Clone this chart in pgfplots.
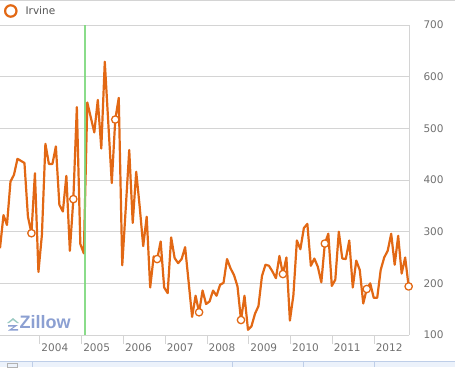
\documentclass[border=0pt]{standalone}
\usepackage{fontspec}
\setmainfont{DejaVu Sans}
\newfontfamily\zfont{Liberation Sans}
\usepackage{pgfplots}
\usepackage{pgfplotstable}
\pgfplotsset{compat=1.18}
\definecolor{orangeline}{RGB}{226,104,20}
\definecolor{greenline}{RGB}{125,216,125}
\definecolor{gridgray}{RGB}{212,212,212}
\definecolor{labelgray}{RGB}{112,112,112}
\definecolor{legendgray}{RGB}{85,85,85}
\definecolor{zblue}{RGB}{140,160,210}
\definecolor{bandfill}{RGB}{236,242,251}
\definecolor{bandline}{RGB}{190,206,232}

\pgfplotstableread{
i v
0 268
1 332
2 313
3 397
4 410
5 441
6 437
7 433
8 329
9 297
10 413
11 222
12 294
13 470
14 431
15 431
16 465
17 352
18 339
19 408
20 263
21 363
22 541
23 276
24 258
25 550
26 521
27 492
28 555
29 461
30 629
31 511
32 394
33 517
34 559
35 235
36 345
37 458
38 317
39 416
40 348
41 272
42 329
43 192
44 252
45 247
46 281
47 192
48 181
49 289
50 249
51 239
52 247
53 270
54 203
55 135
56 176
57 144
58 186
59 160
60 165
61 186
62 176
63 197
64 201
65 247
66 229
67 216
68 194
69 129
70 176
71 110
72 117
73 141
74 156
75 214
76 236
77 234
78 223
79 210
80 253
81 218
82 250
83 128
84 177
85 283
86 266
87 307
88 315
89 234
90 248
91 232
92 202
93 277
94 296
95 195
96 207
97 300
98 248
99 247
100 283
101 192
102 244
103 226
104 161
105 189
106 200
107 172
108 172
109 226
110 250
111 263
112 296
113 236
114 292
115 219
116 250
117 194
}\irvine

\begin{document}
\begin{tikzpicture}
\path[use as bounding box] (0pt,-32pt) rectangle (455pt,335pt);
% top border and bottom band
\draw[gridgray, line width=0.8pt] (0pt,334.6pt) -- (455pt,334.6pt);
\fill[bandfill] (0pt,-32pt) rectangle (455pt,-26pt);
\draw[bandline, line width=0.8pt] (0pt,-26pt) -- (455pt,-26pt);
\foreach \xx in {32,232,303,374} {\draw[bandline, line width=0.8pt] (\xx pt,-26pt) -- (\xx pt,-32pt);}
\draw[gray!60, line width=0.6pt] (7pt,-28pt) rectangle (17pt,-32.5pt);
\begin{axis}[
  at={(0pt,0pt)}, anchor=south west,
  width=409pt, height=310pt, scale only axis,
  xmin=0, xmax=117.1, ymin=100, ymax=700,
  axis x line=bottom, axis y line=right,
  axis line style={draw=gridgray, line width=1pt, -},
  xtick={11.45,23.41,35.37,47.33,59.3,71.26,83.22,95.18,107.15},
  xticklabels={2004,2005,2006,2007,2008,2009,2010,2011,2012},
  xtick style={draw=gridgray, line width=1pt},
  tick align=outside,
  major tick length=9pt,
  xticklabel style={anchor=north west, inner sep=0pt, xshift=1.3pt},
  ytick={100,200,...,700},
  ytick style={draw=none},
  yticklabel style={anchor=west, inner sep=0pt, xshift=5.3pt},
  /pgf/number format/assume math mode=true,
  ymajorgrids,
  grid style={draw=gridgray, line width=1pt},
  ticklabel style={font=\fontsize{10.5}{12}\selectfont, text=labelgray},
  clip=false,
  legend style={at={(axis description cs:0,1)}, anchor=west, xshift=4pt, yshift=14pt,
    draw=none, fill=none, inner sep=0pt, outer sep=0pt, column sep=6pt,
    nodes={inner sep=2pt}, font=\fontsize{10.5}{12}\selectfont, text=legendgray},
  legend image code/.code={\draw[orangeline, line width=2.2pt, fill=white] (0pt,0pt) circle (5.7pt);},
]
\addplot[orangeline, line width=2.2pt, line join=round,
  mark=*, mark size=3.7pt, mark indices={10,22,34,46,58,70,82,94,106,118},
  mark options={fill=white, draw=orangeline, line width=1.3pt}] table[x=i, y=v] {\irvine};
\addlegendentry{Irvine}
\addplot[greenline, line width=2pt, opacity=0.9, forget plot] coordinates {(24.3,100) (24.3,700)};
\end{axis}
% Zillow logo
\fill[zblue!80!green!70] (7pt,12pt) -- (13pt,17pt) -- (19pt,12pt) -- (17pt,12pt) -- (13pt,15pt) -- (9pt,12pt) -- cycle;
\fill[zblue] (8pt,10pt) -- (18pt,10pt) -- (12pt,6pt) -- (18pt,6pt) -- (18pt,4.5pt) -- (8pt,4.5pt) -- (14pt,8.5pt) -- (8pt,8.5pt) -- cycle;
\node[anchor=base west, inner sep=0pt, text=zblue, font=\zfont\bfseries\fontsize{18}{18}\selectfont] at (19.5pt,7pt) {Zillow};
\end{tikzpicture}
\end{document}
